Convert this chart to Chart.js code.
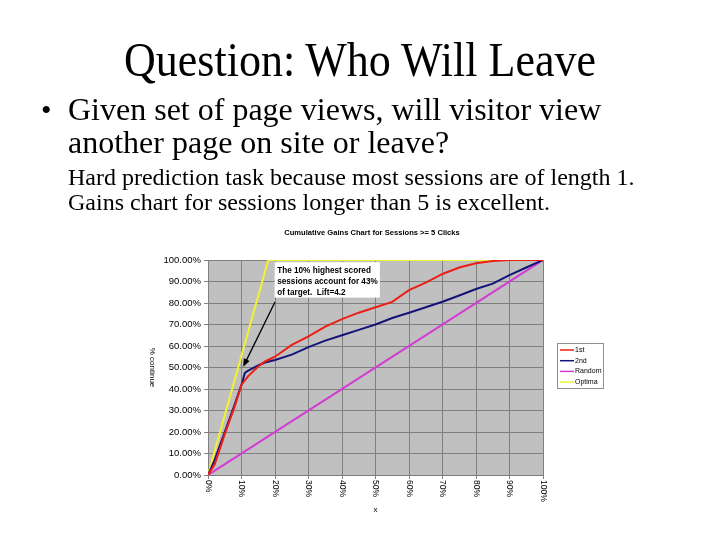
<!DOCTYPE html>
<html><head><meta charset="utf-8">
<script src="https://cdn.jsdelivr.net/npm/chart.js@4.4.0/dist/chart.umd.min.js"></script>
<style>
html,body{margin:0;padding:0;background:#fff;}
#wrap{position:relative;width:720px;height:540px;overflow:hidden;background:#fff;}
canvas{position:absolute;left:0;top:0;}
.t{position:absolute;font-family:'Liberation Serif','Times New Roman',serif;color:#000;white-space:nowrap;}
</style></head><body>
<div id="wrap">
<canvas id="c" width="720" height="540" style="width:720px;height:540px"></canvas>
<div class="t" style="left:0;width:720px;text-align:center;top:40px;font-size:44px;line-height:44px;transform:scaleY(1.1);transform-origin:50% 37px;">Question: Who Will Leave</div>
<div class="t" style="left:41px;top:93px;font-size:30px;line-height:33px;">•</div>
<div class="t" style="left:68px;top:93px;font-size:32px;line-height:33px;">Given set of page views, will visitor view<br>another page on site or leave?</div>
<div class="t" style="left:68px;top:165px;font-size:24px;line-height:24.5px;">Hard prediction task because most sessions are of length 1.<br>Gains chart for sessions longer than 5 is excellent.</div>
</div>
<script>
const chartTitle = 'Cumulative Gains Chart for Sessions >= 5 Clicks';
const seriesNames = ['1st', '2nd', 'Random', 'Optima'];
const modelX  = [0, 2, 5, 8, 10, 11, 12, 15, 17, 20, 25, 30, 35, 40, 45, 50, 55, 60, 65, 70, 75, 80, 85, 90, 95, 100];
const firstY  = [0, 5, 19, 32, 42, 44, 46, 50.5, 52.8, 55, 60.5, 64.5, 69, 72.5, 75.5, 78, 80.5, 86, 89.5, 93.5, 96.5, 98.5, 99.5, 100, 100, 100];
const secondY = [0, 7, 20, 33, 42, 47.5, 48.5, 51, 52.3, 53.5, 56, 59.5, 62.5, 65, 67.5, 70, 73, 75.5, 78, 80.6, 83.5, 86.5, 89, 93, 96.5, 100];
const randomX = [0, 100];
const randomY = [0, 100];
const optimaX = [0, 18, 100];
const optimaY = [0, 100, 100];
const xTickLabels = ['0%', '10%', '20%', '30%', '40%', '50%', '60%', '70%', '80%', '90%', '100%'];
const yTickLabels = ['0.00%', '10.00%', '20.00%', '30.00%', '40.00%', '50.00%', '60.00%', '70.00%', '80.00%', '90.00%', '100.00%'];
const xTitle = 'x';
const yTitle = '% continue';
const noteLines = ['The 10% highest scored', 'sessions account for 43%', 'of target.  Lift=4.2'];

const colors = ['#ec1e16', '#141478', '#d23cd2', '#f2f230'];
const pts = (xs, ys) => xs.map((x, i) => ({ x: x, y: ys[i] }));
const SANS = "'Liberation Sans', Arial, sans-serif";

const deco = {
  id: 'deco',
  beforeDraw(chart) {
    const { ctx, chartArea: a } = chart;
    ctx.save();
    ctx.fillStyle = '#c0c0c0';
    ctx.fillRect(a.left, a.top, a.right - a.left, a.bottom - a.top);
    ctx.restore();
  },
  afterDatasetsDraw(chart) {
    const { ctx, scales: { x, y } } = chart;
    ctx.save();
    const bx1 = x.getPixelForValue(19.9), bx2 = x.getPixelForValue(51.3);
    const by1 = y.getPixelForValue(99), by2 = y.getPixelForValue(82.5);
    ctx.fillStyle = '#fff';
    ctx.fillRect(bx1, by1, bx2 - bx1, by2 - by1);
    ctx.fillStyle = '#000';
    ctx.font = 'bold 8.2px ' + SANS;
    ctx.textAlign = 'left';
    ctx.textBaseline = 'middle';
    noteLines.forEach((s, i) => ctx.fillText(s, bx1 + 2.5, by1 + 8.5 + i * 11));
    const tx = x.getPixelForValue(20), ty = y.getPixelForValue(80.5);
    const hx = x.getPixelForValue(10.5), hy = y.getPixelForValue(50.3);
    const ang = Math.atan2(hy - ty, hx - tx);
    ctx.strokeStyle = '#000';
    ctx.lineWidth = 1.3;
    ctx.beginPath();
    ctx.moveTo(tx, ty);
    ctx.lineTo(hx - 5 * Math.cos(ang), hy - 5 * Math.sin(ang));
    ctx.stroke();
    ctx.beginPath();
    ctx.moveTo(hx, hy);
    ctx.lineTo(hx - 8 * Math.cos(ang) + 3.2 * Math.sin(ang), hy - 8 * Math.sin(ang) - 3.2 * Math.cos(ang));
    ctx.lineTo(hx - 8 * Math.cos(ang) - 3.2 * Math.sin(ang), hy - 8 * Math.sin(ang) + 3.2 * Math.cos(ang));
    ctx.closePath();
    ctx.fillStyle = '#000';
    ctx.fill();
    ctx.restore();
  },
  afterDraw(chart) {
    const { ctx, chartArea: a, scales: { x } } = chart;
    ctx.save();
    ctx.fillStyle = '#000';
    ctx.font = 'bold 7.6px ' + SANS;
    ctx.textAlign = 'center';
    ctx.textBaseline = 'middle';
    ctx.fillText(chartTitle, 372, 233);
    ctx.font = '8.5px ' + SANS;
    x.ticks.forEach((t, i) => {
      const px = x.getPixelForValue(t.value);
      ctx.save();
      ctx.translate(px, a.bottom + 5);
      ctx.rotate(Math.PI / 2);
      ctx.textAlign = 'left';
      ctx.textBaseline = 'middle';
      ctx.fillText(xTickLabels[i], 0, 0);
      ctx.restore();
    });
    ctx.font = '8px ' + SANS;
    ctx.textAlign = 'center';
    ctx.fillText(xTitle, (a.left + a.right) / 2, 510);
    ctx.save();
    ctx.translate(152, (a.top + a.bottom) / 2);
    ctx.rotate(Math.PI / 2);
    ctx.fillText(yTitle, 0, 0);
    ctx.restore();
    ctx.fillStyle = '#fff';
    ctx.fillRect(557.5, 343.5, 46, 45);
    ctx.strokeStyle = '#909090';
    ctx.lineWidth = 1;
    ctx.strokeRect(557.5, 343.5, 46, 45);
    ctx.font = '7px ' + SANS;
    ctx.textAlign = 'left';
    chart.data.datasets.forEach((ds, i) => {
      const ly = 350 + i * 10.7;
      ctx.strokeStyle = ds.borderColor;
      ctx.lineWidth = 1.5;
      ctx.beginPath();
      ctx.moveTo(560, ly);
      ctx.lineTo(574, ly);
      ctx.stroke();
      ctx.fillStyle = '#000';
      ctx.fillText(ds.label, 575, ly);
    });
    ctx.restore();
  }
};

const lineDs = (label, data, color) => ({
  label: label, data: data, borderColor: color, backgroundColor: color,
  borderWidth: 2, pointRadius: 0, tension: 0, fill: false
});

new Chart(document.getElementById('c'), {
  type: 'line',
  data: {
    datasets: [
      lineDs(seriesNames[0], pts(modelX, firstY), colors[0]),
      lineDs(seriesNames[1], pts(modelX, secondY), colors[1]),
      lineDs(seriesNames[2], pts(randomX, randomY), colors[2]),
      lineDs(seriesNames[3], pts(optimaX, optimaY), colors[3])
    ]
  },
  options: {
    responsive: false,
    animation: false,
    devicePixelRatio: 1,
    layout: { padding: { left: 140, right: 177, top: 260, bottom: 25 } },
    plugins: { legend: { display: false }, title: { display: false }, tooltip: { enabled: false } },
    scales: {
      x: {
        type: 'linear', min: 0, max: 100,
        ticks: { stepSize: 10, display: false },
        grid: { color: '#808080', lineWidth: 1, tickLength: 4, tickColor: '#808080' },
        border: { color: '#808080' },
        afterFit: s => { s.height = 40; }
      },
      y: {
        min: 0, max: 100,
        ticks: {
          stepSize: 10, color: '#000', padding: 3,
          font: { family: SANS, size: 9.5 },
          callback: (v, i) => yTickLabels[i]
        },
        grid: { color: '#808080', lineWidth: 1, tickLength: 4, tickColor: '#808080' },
        border: { color: '#808080' },
        afterFit: s => { s.width = 68; }
      }
    }
  },
  plugins: [deco]
});
</script>
</body></html>
